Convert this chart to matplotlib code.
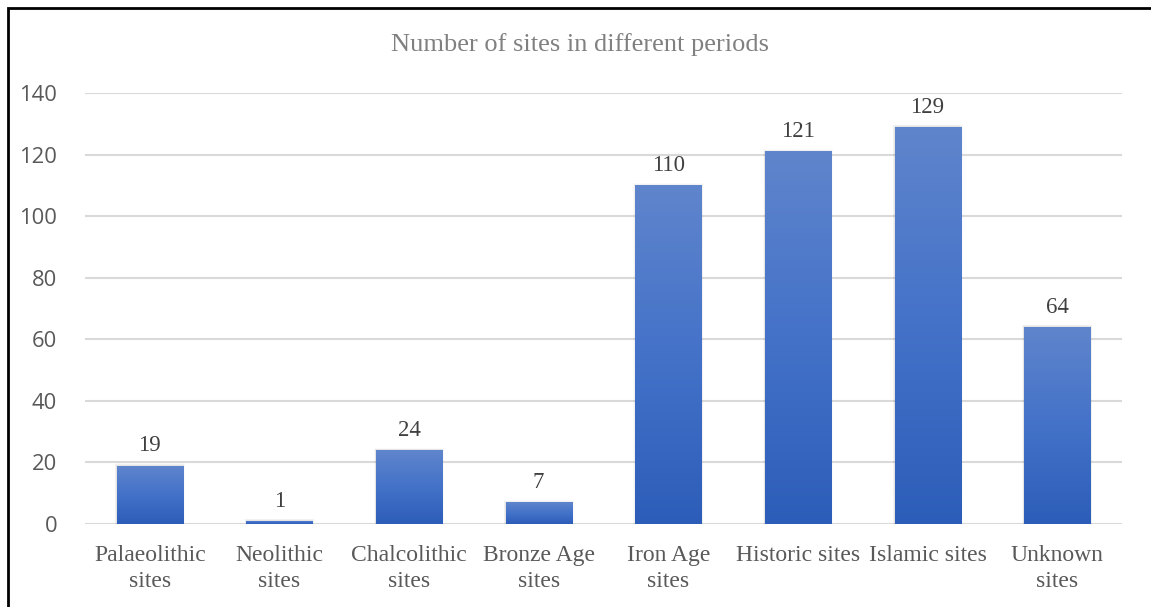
import matplotlib
matplotlib.use("Agg")
import matplotlib.pyplot as plt
import numpy as np
from matplotlib.colors import LinearSegmentedColormap
from matplotlib.patches import Rectangle

categories = ["Palaeolithic\nsites", "Neolithic\nsites", "Chalcolithic\nsites", "Bronze Age\nsites",
              "Iron Age\nsites", "Historic sites", "Islamic sites", "Unknown\nsites"]
values = [19, 1, 24, 7, 110, 121, 129, 64]
yticks = [0, 20, 40, 60, 80, 100, 120, 140]
title = "Number of sites in different periods"

fig = plt.figure(figsize=(11.51, 6.07), dpi=100)
ax = fig.add_axes([85/1151, 1-524/607, (1122-85)/1151, (524-93)/607])

serif = "Liberation Serif"
x = np.arange(len(categories))
bw = 0.51
bars = ax.bar(x, values, width=bw, color="none", edgecolor="none", zorder=3)

cmap = LinearSegmentedColormap.from_list("g", ["#2c5db8", "#4472c9", "#5f85cc"])
grad = np.linspace(0, 1, 256).reshape(-1, 1)
for b in bars:
    x0, y0 = b.get_x(), b.get_y()
    w, h = b.get_width(), b.get_height()
    for i, a in enumerate([0.05, 0.035, 0.02]):
        off = 0.005 * (i + 1)
        ax.add_patch(Rectangle((x0 - off, y0), w + 2 * off, h + off * 50,
                               facecolor="black", alpha=a, edgecolor="none", zorder=2))
    im = ax.imshow(grad, extent=(x0, x0 + w, y0, y0 + h), origin="lower", cmap=cmap,
                   aspect="auto", zorder=3, interpolation="bilinear")
    im.set_clip_path(b)

for xi, v in zip(x, values):
    ax.text(xi, v + 3.0, str(v), ha="center", va="bottom", fontsize=16.5,
            family=serif, color="#404040", zorder=4)

ax.set_xlim(-0.5, len(categories) - 0.5)
ax.set_ylim(0, 140)
ax.set_yticks(yticks)
ax.set_yticklabels([str(t) for t in yticks], fontsize=15.8, family="Open Sans", color="#595959")
ax.set_xticks(x)
ax.set_xticklabels(categories, fontsize=17, family=serif, color="#595959", linespacing=1.32)
ax.tick_params(axis="both", length=0)
ax.tick_params(axis="y", pad=20)
ax.tick_params(axis="x", pad=15)
ax.grid(axis="y", color="#d9d9d9", linewidth=1.5, zorder=0)
ax.set_axisbelow(True)
for s in ax.spines.values():
    s.set_visible(False)

fig.text(580/1151, 1-45/607, title, ha="center", va="center", fontsize=19,
         family=serif, color="#808080")

fig.patches.append(Rectangle((8/1151, -0.05), 1.1, 1-8/607+0.05, transform=fig.transFigure,
                             facecolor="none", edgecolor="black", linewidth=2))

fig.savefig("out.png", dpi=100)
